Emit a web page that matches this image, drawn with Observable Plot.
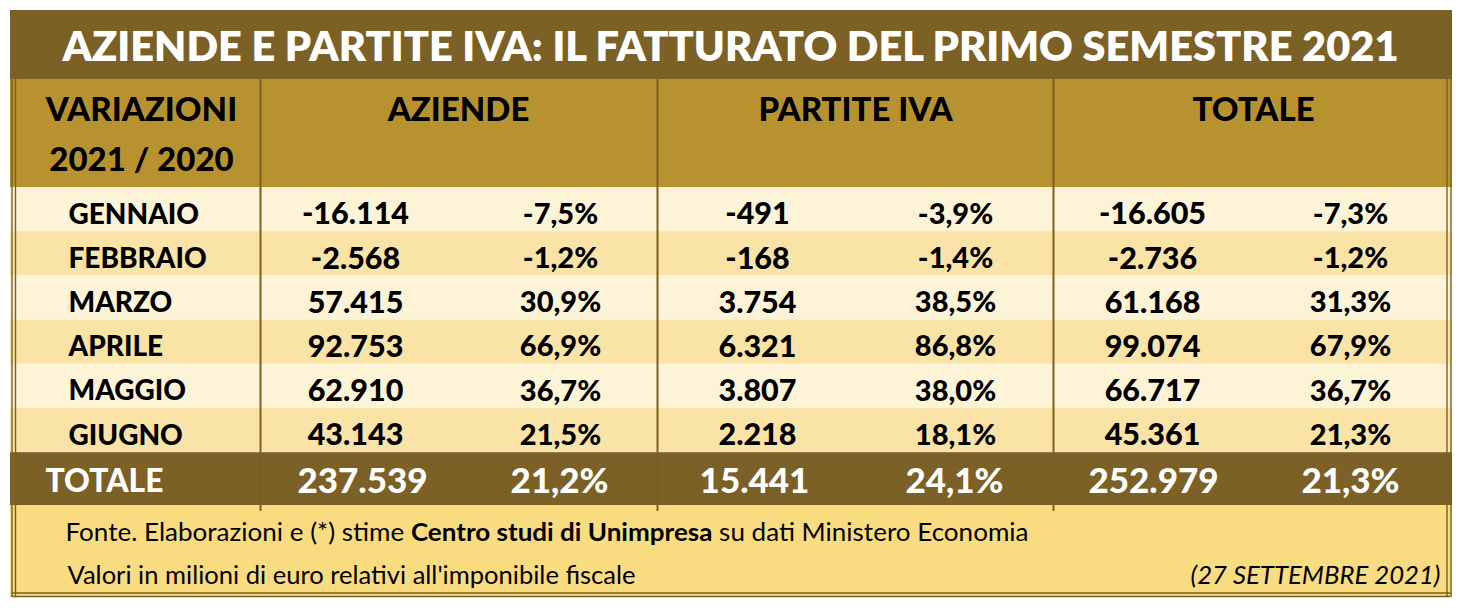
<!DOCTYPE html>
<html><head><meta charset="utf-8">
<script src="https://cdn.jsdelivr.net/npm/d3@7"></script>
<script src="https://cdn.jsdelivr.net/npm/@observablehq/plot@0.6"></script>
<style>body{margin:0;background:#fff}</style>
</head><body><div id="chart"></div>
<script>
// ---------- data ----------
const title = "AZIENDE E PARTITE IVA: IL FATTURATO DEL PRIMO SEMESTRE 2021";
const headerLabel = ["VARIAZIONI", "2021 / 2020"];
const groups = ["AZIENDE", "PARTITE IVA", "TOTALE"];
const months = ["GENNAIO", "FEBBRAIO", "MARZO", "APRILE", "MAGGIO", "GIUGNO"];
const aziendeValues = [-16114, -2568, 57415, 92753, 62910, 43143];
const aziendePct = [-7.5, -1.2, 30.9, 66.9, 36.7, 21.5];
const pivaValues = [-491, -168, 3754, 6321, 3807, 2218];
const pivaPct = [-3.9, -1.4, 38.5, 86.8, 38.0, 18.1];
const totaleValues = [-16605, -2736, 61168, 99074, 66717, 45361];
const totalePct = [-7.3, -1.2, 31.3, 67.9, 36.7, 21.3];
const totalLabel = "TOTALE";
const totalValues = [237539, 15441, 252979];
const totalPct = [21.2, 24.1, 21.3];
const footerSource = ["Fonte. Elaborazioni e (*) stime ", "Centro studi di Unimpresa", " su dati Ministero Economia"];
const footerNote = "Valori in milioni di euro relativi all'imponibile fiscale";
const footerDate = "(27 SETTEMBRE 2021)";

// ---------- layout & style ----------
const W = 1468, H = 608;
const L = {left: 10, right: 1452, top: 10, titleBottom: 79, headerBottom: 187, rowH: 44.2,
  totalBottom: 505, bottom: 597, sepX: [260, 657, 1053],
  valueX: [355, 560, 757, 955, 1152, 1350], totalX: [362, 559, 754, 954, 1153, 1350],
  groupX: [458, 855, 1253], labelX: 68, totalLabelX: 45, headerX: 141};
const C = {dark: "#7b6125", header: "#b8922f", cream: "#fdf3d7", yellow: "#f9e3a6", footer: "#f9dc80", line: "#7a5f20"};
const FONT = "Lato, 'Open Sans', sans-serif";
const WEIGHT = 900;

const it = d3.formatLocale({decimal: ",", thousands: ".", grouping: [3], currency: ["", "€"], minus: "-"});
const fmtInt = it.format(",d");
const fmtPct = v => it.format(".1f")(v) + "%";

const rowTop = i => L.headerBottom + i * L.rowH;
const rowsBottom = rowTop(months.length);

const bands = [
  {x1: L.left, x2: L.right, y1: L.top, y2: L.titleBottom, fill: C.dark},
  {x1: L.left, x2: L.right, y1: L.titleBottom, y2: L.headerBottom, fill: C.header},
  ...months.map((m, i) => ({x1: L.left, x2: L.right, y1: rowTop(i), y2: rowTop(i + 1), fill: i % 2 ? C.yellow : C.cream})),
  {x1: L.left, x2: L.right, y1: rowsBottom, y2: L.totalBottom, fill: C.dark},
  {x1: L.left, x2: L.right, y1: L.totalBottom, y2: L.bottom, fill: C.footer}
];

const series = [
  {values: aziendeValues, fmt: fmtInt, size: 30.5}, {values: aziendePct, fmt: fmtPct, size: 29},
  {values: pivaValues, fmt: fmtInt, size: 30.5}, {values: pivaPct, fmt: fmtPct, size: 29},
  {values: totaleValues, fmt: fmtInt, size: 30.5}, {values: totalePct, fmt: fmtPct, size: 29}
];
const cells = months.flatMap((m, i) => series.map((s, j) => ({x: L.valueX[j], y: rowTop(i) + L.rowH / 2 + 5, text: s.fmt(s.values[i]), size: s.size})));
const monthCells = months.map((m, i) => ({x: L.labelX, y: rowTop(i) + L.rowH / 2 + 5, text: m}));
const totalsRow = totalValues.flatMap((v, k) => [fmtInt(v), fmtPct(totalPct[k])]).map((t, j) => ({x: L.totalX[j], y: (rowsBottom + L.totalBottom) / 2 + 3, text: t}));
const groupCells = groups.map((g, k) => ({x: L.groupX[k], y: 110, text: g}));
const headerCells = headerLabel.map((t, k) => ({x: L.headerX, y: 110 + k * 50, text: t}));

const chart = Plot.plot({
  width: W, height: H,
  margin: 0,
  x: {domain: [0, W], range: [0, W], axis: null},
  y: {domain: [0, H], range: [0, H], axis: null},
  color: {type: "identity"},
  style: {fontFamily: FONT, background: "transparent"},
  marks: [
    Plot.rect(bands, {x1: "x1", x2: "x2", y1: "y1", y2: "y2", fill: "fill"}),
    // column separators
    Plot.ruleX(L.sepX, {x: d => d, y1: L.titleBottom, y2: L.totalBottom + 6, stroke: C.line, strokeWidth: 2}),
    // double borders
    Plot.ruleX([L.left + 1.5, L.left + 5, L.right - 1.5, L.right - 5.5], {x: d => d, y1: L.titleBottom, y2: L.bottom, stroke: C.line, strokeWidth: 1.4}),
    Plot.ruleY([L.bottom - 1, L.bottom - 4.5], {y: d => d, x1: L.left + 1.5, x2: L.right - 1.5, stroke: C.line, strokeWidth: 1.4}),
    // title
    Plot.text([title], {x: (L.left + L.right) / 2 - 1, y: 47, text: d => d, fill: "#fff", fontSize: 42, fontWeight: 800, ariaLabel: () => "title"}),
    // header
    Plot.text(headerCells, {x: "x", y: "y", text: "text", fill: "#000", fontSize: 33, fontWeight: WEIGHT}),
    Plot.text(groupCells, {x: "x", y: "y", text: "text", fill: "#000", fontSize: 33, fontWeight: WEIGHT}),
    // body
    Plot.text(monthCells, {x: "x", y: "y", text: "text", textAnchor: "start", fill: "#000", fontSize: 28, fontWeight: WEIGHT}),
    Plot.text(cells, {x: "x", y: "y", text: "text", fill: "#000", fontSize: "size", fontWeight: WEIGHT}),
    // totals
    Plot.text([totalLabel], {x: L.totalLabelX, y: (rowsBottom + L.totalBottom) / 2 + 3, text: d => d, textAnchor: "start", fill: "#fff", fontSize: 32, fontWeight: WEIGHT, ariaLabel: () => "totlabel"}),
    Plot.text(totalsRow, {x: "x", y: "y", text: "text", fill: "#fff", fontSize: 35, fontWeight: WEIGHT}),
    // footer
    Plot.text([footerSource.join("")], {x: 65, y: 532, text: d => d, textAnchor: "start", fill: "#000", fontSize: 25.5, ariaLabel: () => "source"}),
    Plot.text([footerNote], {x: 67, y: 575, text: d => d, textAnchor: "start", fill: "#000", fontSize: 25.5, ariaLabel: () => "note"}),
    Plot.text([footerDate], {x: 1440, y: 575, text: d => d, textAnchor: "end", fill: "#000", fontSize: 25.5, fontStyle: "italic", ariaLabel: () => "date"})
  ]
});

const svg = d3.select(chart);
const pick = name => {
  let s = svg.select(`text[aria-label="${name}"]`);
  if (s.empty()) s = svg.select(`[aria-label="${name}"] text`);
  return s;
};
pick("title").attr("textLength", 1336).attr("lengthAdjust", "spacingAndGlyphs");
pick("totlabel").attr("textLength", 118).attr("lengthAdjust", "spacingAndGlyphs");
const src = pick("source");
src.text(null);
footerSource.forEach((t, k) => src.append("tspan").attr("font-weight", k === 1 ? 700 : 400).text(t));
src.attr("textLength", 963).attr("lengthAdjust", "spacingAndGlyphs");
pick("note").attr("textLength", 568).attr("lengthAdjust", "spacingAndGlyphs");
pick("date").attr("textLength", 250).attr("lengthAdjust", "spacingAndGlyphs");
document.getElementById("chart").append(chart);
</script>
</body></html>
